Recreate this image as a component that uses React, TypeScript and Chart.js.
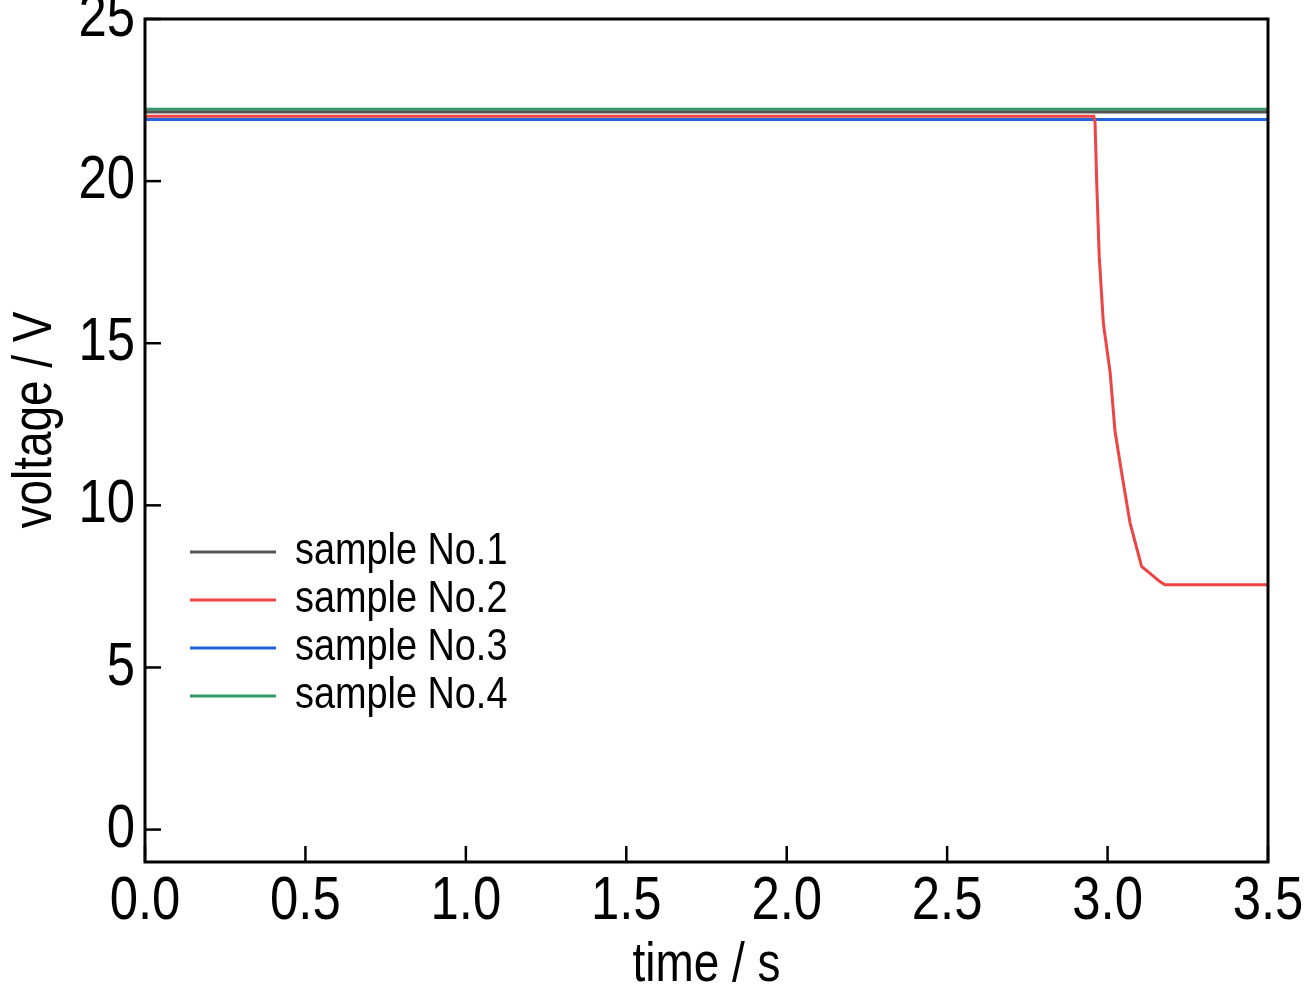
import React, { useEffect, useRef } from "react";
import { Chart, registerables } from "chart.js";
Chart.register(...registerables);

const series1 = [[0, 22.13], [3.5, 22.13]];
const series2 = [[0, 22.0], [2.957, 22.0], [2.961, 21.8], [2.966, 20.0], [2.974, 17.67], [2.987, 15.6], [3.008, 14.1], [3.023, 12.3], [3.044, 11.0], [3.07, 9.46], [3.106, 8.12], [3.163, 7.65], [3.179, 7.55], [3.5, 7.55]];
const series3 = [[0, 21.9], [3.5, 21.9]];
const series4 = [[0, 22.22], [3.5, 22.22]];
const labels = ["sample No.1", "sample No.2", "sample No.3", "sample No.4"];
const colors = ["#555555", "#ee4444", "#2266dd", "#339966"];
const xTicks = [0, 0.5, 1, 1.5, 2, 2.5, 3, 3.5];
const yTicks = [0, 5, 10, 15, 20, 25];
const FONT = "'Liberation Sans', Arial, sans-serif";

function narrowText(ctx: any, text: string, x: number, y: number, size: number, sx: number, align: string, rot = 0) {
  ctx.save();
  ctx.translate(x, y);
  if (rot) ctx.rotate(rot);
  ctx.scale(sx, 1);
  ctx.font = `${size}px ${FONT}`;
  ctx.textAlign = align;
  ctx.textBaseline = "middle";
  ctx.fillStyle = "#000";
  ctx.fillText(text, 0, 0);
  ctx.restore();
}

export default function App() {
  const ref = useRef<HTMLCanvasElement>(null);
  useEffect(() => {
    document.body.style.margin = "0";
    const all = [series1, series2, series3, series4];
    const deco = {
      id: "deco",
      afterDatasetsDraw(c: any) {
        const ctx = c.ctx, a = c.chartArea, xs = c.scales.x, ys = c.scales.y;
        ctx.save();
        ctx.strokeStyle = "#000";
        ctx.lineWidth = 2.5;
        xTicks.forEach((t) => {
          const p = xs.getPixelForValue(t);
          ctx.beginPath(); ctx.moveTo(p, a.bottom); ctx.lineTo(p, a.bottom - 16); ctx.stroke();
          narrowText(ctx, t.toFixed(1), p, a.bottom + 40, 62, 0.82, "center");
        });
        yTicks.forEach((t) => {
          const p = ys.getPixelForValue(t);
          ctx.beginPath(); ctx.moveTo(a.left, p); ctx.lineTo(a.left + 16, p); ctx.stroke();
          narrowText(ctx, String(t), a.left - 10, p, 62, 0.82, "right");
        });
        ctx.lineWidth = 3;
        ctx.strokeRect(a.left, a.top, a.right - a.left, a.bottom - a.top);
        narrowText(ctx, "time / s", (a.left + a.right) / 2, 966, 56, 0.82, "center");
        narrowText(ctx, "voltage / V", 36, 420, 56, 0.82, "center", -Math.PI / 2);
        labels.forEach((l, i) => {
          const y = 552 + i * 48;
          ctx.strokeStyle = colors[i];
          ctx.lineWidth = 3;
          ctx.beginPath(); ctx.moveTo(190, y); ctx.lineTo(276, y); ctx.stroke();
          narrowText(ctx, l, 295, y, 44, 0.86, "left");
        });
        ctx.restore();
      },
    };
    const chart = new Chart(ref.current!, {
      type: "line",
      data: {
        datasets: all.map((s, i) => ({
          label: labels[i],
          data: s.map(([x, y]) => ({ x, y })),
          borderColor: colors[i],
          borderWidth: 3,
          pointRadius: 0,
          tension: 0,
        })),
      },
      options: {
        animation: false,
        responsive: false,
        layout: { padding: { left: 145, right: 39, top: 19, bottom: 134 } },
        plugins: { legend: { display: false }, tooltip: { enabled: false } },
        scales: {
          x: { type: "linear", min: 0, max: 3.5, display: false },
          y: { min: -1, max: 25, display: false },
        },
      },
      plugins: [deco],
    } as any);
    return () => chart.destroy();
  }, []);
  return <canvas ref={ref} width={1307} height={996} style={{ display: "block" }} />;
}
